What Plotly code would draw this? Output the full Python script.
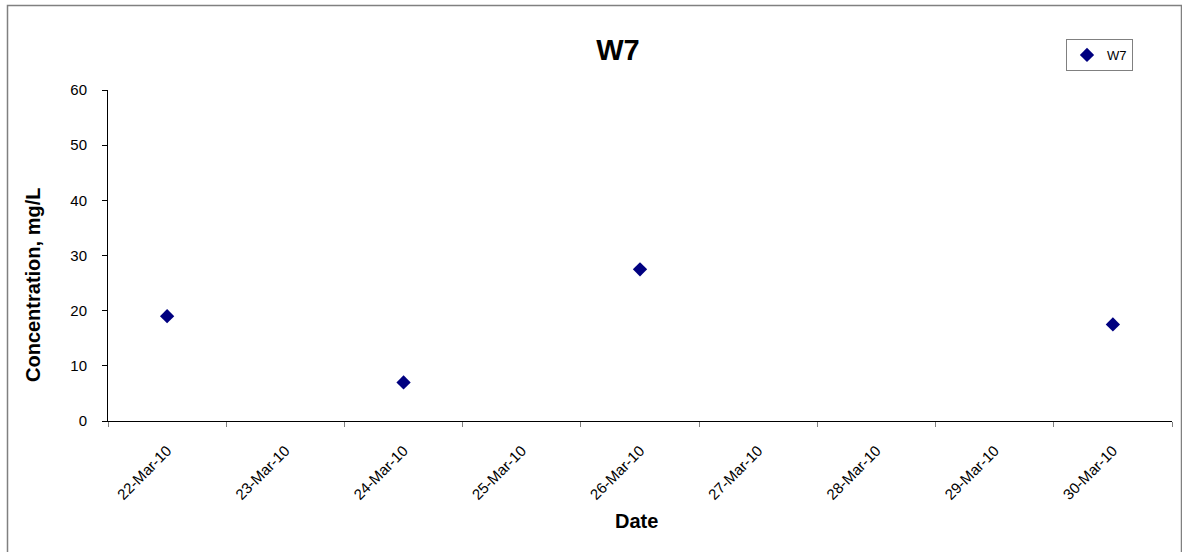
import plotly.graph_objects as go

categories = ["22-Mar-10", "23-Mar-10", "24-Mar-10", "25-Mar-10", "26-Mar-10",
              "27-Mar-10", "28-Mar-10", "29-Mar-10", "30-Mar-10"]
sample_dates = ["22-Mar-10", "24-Mar-10", "26-Mar-10", "30-Mar-10"]
w7_values = [19, 7, 27.5, 17.5]
y_ticks = [0, 10, 20, 30, 40, 50, 60]

W, H = 1182, 552
L, R, T, B = 108, 10, 90, 131
pw, ph = W - L - R, H - T - B
FONT = "Liberation Sans, Arial, sans-serif"

def px(x):
    return (x - L) / pw

def py(y):
    return (H - B - y) / ph

fig = go.Figure()
fig.add_trace(go.Scatter(
    x=sample_dates, y=w7_values, mode="markers", name="W7",
    marker=dict(symbol="diamond", size=11, color="#000080"),
))

fig.update_layout(
    width=W, height=H,
    margin=dict(l=L, r=R, t=T, b=B),
    paper_bgcolor="white", plot_bgcolor="white",
    font=dict(family=FONT, size=14, color="black"),
    title=dict(text="<b>W7</b>", x=618 / W, xanchor="center",
               y=1 - 50 / H, yanchor="middle", yref="container",
               font=dict(size=29, family=FONT, color="black")),
    showlegend=True,
    legend=dict(x=px(1066), y=py(39), xanchor="left", yanchor="top",
                bordercolor="#808080", borderwidth=1, bgcolor="white",
                font=dict(size=13, family=FONT), itemwidth=30,
                tracegroupgap=0),
    xaxis=dict(type="category", categoryorder="array", categoryarray=categories,
               range=[-0.5, len(categories) - 0.5], tickson="boundaries",
               ticks="outside", ticklen=5, tickcolor="#808080",
               tickangle=-45, showline=True, linecolor="black", linewidth=1,
               showgrid=False, zeroline=False, ticklabelstandoff=14,
               tickfont=dict(size=15, family=FONT)),
    yaxis=dict(range=[0, 60], tickvals=y_ticks, ticks="outside", ticklen=5,
               tickcolor="black", showline=True, linecolor="black", linewidth=1,
               showgrid=False, zeroline=False, ticklabelstandoff=12,
               tickfont=dict(size=15, family=FONT)),
    annotations=[
        dict(text="<b>Concentration, mg/L</b>", xref="paper", yref="paper",
             x=px(33), y=py(285), xanchor="center", yanchor="middle",
             textangle=-90, showarrow=False, font=dict(size=20, family=FONT)),
        dict(text="<b>Date</b>", xref="paper", yref="paper",
             x=px(636), y=py(521), xanchor="center", yanchor="middle",
             showarrow=False, font=dict(size=20, family=FONT)),
    ],
    shapes=[
        dict(type="rect", xref="paper", yref="paper",
             x0=px(7.5), x1=px(1181.5), y0=py(5.5), y1=py(560),
             line=dict(color="#808080", width=1.5), fillcolor="rgba(0,0,0,0)",
             layer="below"),
    ],
)

fig.write_html("out.html", config={"displayModeBar": False},
               post_script="document.body.style.margin='0';document.body.style.overflow='hidden';")
